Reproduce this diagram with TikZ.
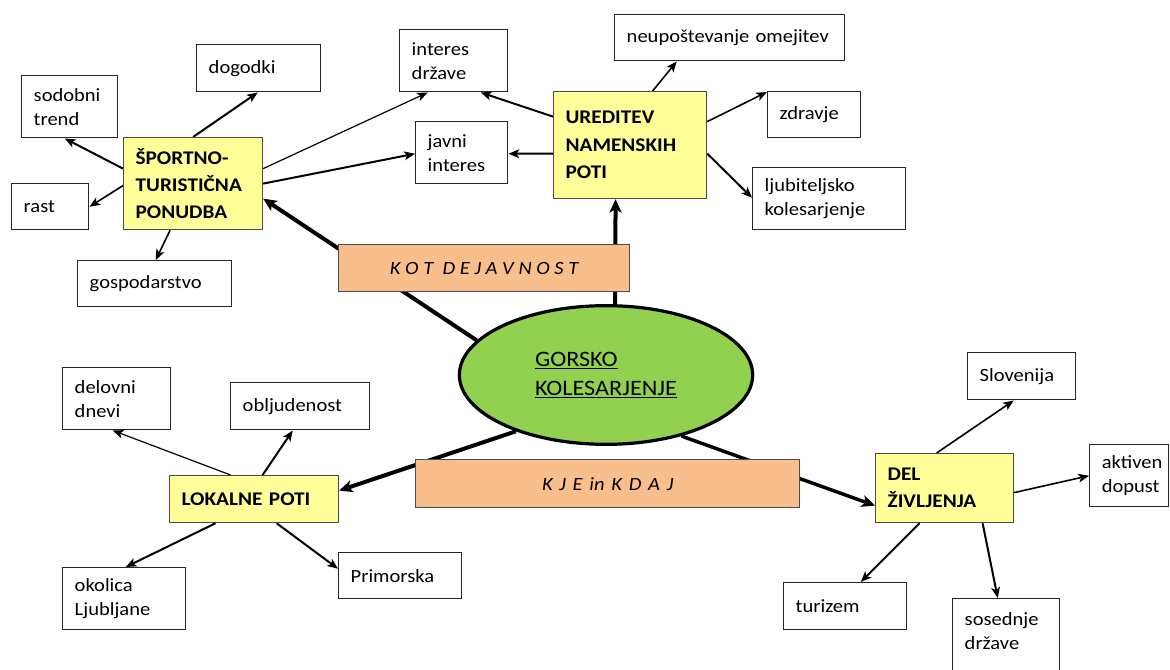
\documentclass[tikz,border=0pt]{standalone}
\usepackage{fontspec}
\setmainfont{Carlito}[FakeStretch=1.1]
\usetikzlibrary{arrows.meta,calc,shapes.geometric}
\definecolor{yel}{HTML}{FFFF99}
\definecolor{peach}{HTML}{F8BF8C}
\definecolor{grn}{HTML}{92D050}
\pgfdeclarelayer{bg}
\pgfsetlayers{bg,main}
\hyphenpenalty=10000
\exhyphenpenalty=10000
\tikzset{
  base/.style={rectangle, anchor=north west, align=left, inner xsep=9pt, inner ysep=0pt},
  leaf/.style={base, draw=black!85, line width=1.1pt, fill=white,
    font=\fontsize{14}{18}\selectfont},
  hub/.style={base, draw=black!70, line width=0.9pt, fill=yel,
    font=\fontsize{14.5}{20.5}\selectfont\bfseries},
  band/.style={rectangle, anchor=north west, draw=black!70, line width=1pt, fill=peach,
    inner sep=0pt, font=\fontsize{14}{18}\selectfont\itshape},
  core/.style={ellipse, draw=black, line width=2.4pt, fill=grn, inner sep=0pt,
    minimum width=220pt, minimum height=104pt, align=left,
    font=\fontsize{16.5}{21.75}\selectfont},
  arr/.style={-{Stealth[length=8pt,width=6.5pt,inset=2pt]}, line width=1.5pt},
  arrthin/.style={arr, line width=0.9pt},
  arrmid/.style={arr, line width=1.2pt},
  arrthick/.style={-{Stealth[length=10pt,width=9pt,inset=2.5pt]}, line width=3pt},
}
\begin{document}
\hyphenpenalty=10000
\exhyphenpenalty=10000
\begin{tikzpicture}[x=0.75pt,y=-0.75pt]
\useasboundingbox (0,0) rectangle (1170,670);

% central ellipse
\node[core] (gk) at (606,375) {\underline{GORSKO}\\\underline{KOLESARJENJE}};

% bands
\node[band, minimum width=218.25pt, minimum height=35.25pt] (kot) at (338,244) {K O T \ D E J A V N O S T};
\node[band, minimum width=288pt, minimum height=36pt] (kje) at (415,459) {{\spaceskip=0.36em K J E in K D A J}};

% hubs
\node[hub, text width=86.25pt, minimum height=69pt] (sp) at (123,137) {ŠPORTNO-\\TURISTIČNA\\PONUDBA};
\node[hub, text width=96.75pt, minimum height=80.25pt] (ur) at (553,91) {UREDITEV\\NAMENSKIH\\POTI};
\node[hub, text width=108.75pt, minimum height=35.25pt] (lok) at (169,475) {LOKALNE~POTI};
\node[hub, text width=85.5pt, minimum height=51.75pt] (del) at (875,453) {DEL\\ŽIVLJENJA};

% leaves
\node[leaf, text width=54pt, minimum height=46.5pt] (st) at (21,75) {sodobni\\trend};
\node[leaf, text width=75pt, minimum height=35.25pt] (dog) at (196,44) {dogodki};
\node[leaf, text width=39.75pt, minimum height=34.5pt] (rast) at (11,183) {rast};
\node[leaf, text width=97.5pt, minimum height=34.5pt] (gos) at (77,260) {gospodarstvo};
\node[leaf, text width=63pt, minimum height=46.5pt] (intd) at (399,29) {interes\\države};
\node[leaf, text width=51pt, minimum height=46.5pt] (jav) at (415,121) {javni\\interes};
\node[leaf, text width=154.5pt, minimum height=34.5pt] (neup) at (614,14) {neupoštevanje~omejitev};
\node[leaf, text width=51.75pt, minimum height=34.5pt] (zdr) at (767,91) {zdravje};
\node[leaf, text width=96.75pt, minimum height=46.5pt] (lj) at (752,167) {ljubiteljsko\\kolesarjenje};
\node[leaf, text width=63pt, minimum height=46.5pt] (dd) at (62,367) {delovni\\dnevi};
\node[leaf, text width=86.25pt, minimum height=35.25pt] (obl) at (230,382) {obljudenost};
\node[leaf, text width=74.25pt, minimum height=46.5pt] (oko) at (62,567) {okolica\\Ljubljane};
\node[leaf, text width=74.25pt, minimum height=34.5pt] (prim) at (338,552) {Primorska};
\node[leaf, text width=63pt, minimum height=35.25pt] (slo) at (967,352) {Slovenija};
\node[leaf, text width=41.25pt, minimum height=46.5pt] (akt) at (1089,444) {aktiven\\dopust};
\node[leaf, text width=74.25pt, minimum height=35.25pt] (tur) at (783,582) {turizem};
\node[leaf, text width=62.25pt, minimum height=66pt] (sos) at (952,598) {sosednje\\države\\\mbox{}};

\begin{pgfonlayer}{bg}
\fill[white] (0,0) rectangle (1170,670);
% from the centre
\draw[arrthick] (gk.165) -- ($(sp.east)+(0,15)$);
\draw[arrthick] ($(gk.north)+(9,2)$) -- ($(ur.south)+(-14.5,0)$);
\draw[arrthick] (gk.212) -- ($(lok.east)+(0,-8.5)$);
\draw[arrthick, line width=2.6pt] (gk.321) -- ($(del.west)+(0,17.5)$);
% sportno-turisticna ponudba
\draw[arr] ($(sp.west)+(0,-15)$) -- ($(st.south)+(-5,0)$);
\draw[arrmid] ($(sp.west)+(0,2)$) -- (rast.east);
\draw[arr] (sp.north) -- ($(dog.south)+(-1,0)$);
\draw[arrmid] ($(sp.south)+(-23,0)$) -- ($(gos.north)+(1,0)$);
\draw[arrthin] ($(sp.east)+(0,-15)$) -- ($(intd.south)+(-26,0)$);
\draw[arr] (sp.east) -- ($(jav.west)+(0,1)$);
% ureditev namenskih poti
\draw[arr] ($(ur.west)+(0,-28.5)$) -- ($(intd.south)+(27,0)$);
\draw[arr] ($(ur.west)+(0,8.5)$) -- ($(jav.east)+(0,1)$);
\draw[arrmid] ($(ur.north)+(22.5,0)$) -- ($(neup.south)+(-53,0)$);
\draw[arrmid] ($(ur.east)+(0,-23.5)$) -- ($(zdr.north west)+(0,1)$);
\draw[arr] ($(ur.east)+(0,8.5)$) -- ($(lj.west)+(0,-1)$);
% lokalne poti
\draw[arrthin] ($(lok.north)+(-23.5,0)$) -- ($(dd.south)+(-4,0)$);
\draw[arr] ($(lok.north)+(8.5,0)$) -- ($(obl.south)+(-7.5,0)$);
\draw[arr] ($(lok.south)+(-38.5,0)$) -- ($(oko.north)+(1.5,0)$);
\draw[arr] ($(lok.south)+(22.5,0)$) -- ($(prim.west)+(0,-7)$);
% del zivljenja
\draw[arrmid] ($(del.north)+(-8,0)$) -- ($(slo.south)+(-8,0)$);
\draw[arrmid] ($(del.east)+(0,4.5)$) -- (akt.west);
\draw[arr] ($(del.south)+(-25,0)$) -- ($(tur.north)+(15.5,0)$);
\draw[arr] ($(del.south)+(38,0)$) -- ($(sos.north)+(-8.5,0)$);
\end{pgfonlayer}
\end{tikzpicture}
\end{document}
